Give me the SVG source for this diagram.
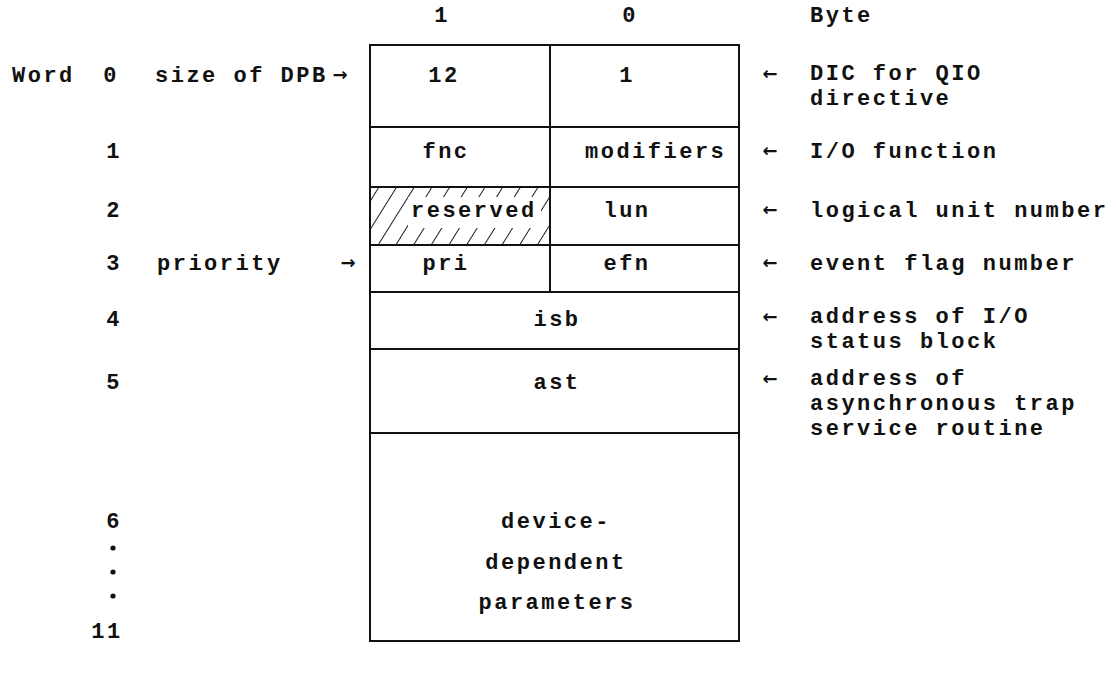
<svg xmlns="http://www.w3.org/2000/svg" width="1116" height="677" viewBox="0 0 1116 677">
<style>
.t{font-family:"Liberation Mono","Courier New",monospace;font-weight:bold;font-size:22px;letter-spacing:2.5px;fill:#111}
.m{text-anchor:middle}
.a{font-family:"DejaVu Sans",sans-serif;font-weight:bold;font-size:18px;fill:#111;text-anchor:middle}
.ln{stroke:#111;stroke-width:2;fill:none}
</style>
<defs>
<pattern id="hatch" width="15" height="10" patternUnits="userSpaceOnUse" patternTransform="rotate(32)">
<line x1="0" y1="0" x2="0" y2="10" stroke="#111" stroke-width="1.9"/>
</pattern>
<clipPath id="resClip"><rect x="371" y="188" width="178" height="56"/></clipPath>
</defs>
<rect width="1116" height="677" fill="#fff"/>

<g id="header">
<text class="t m" x="442" y="22">1</text>
<text class="t m" x="630" y="22">0</text>
<text class="t" x="810" y="22">Byte</text>
</g>

<g id="word-labels">
<text class="t" x="12" y="82">Word</text>
<text class="t m" x="111" y="82">0</text>
<text class="t m" x="114" y="158">1</text>
<text class="t m" x="114" y="217">2</text>
<text class="t m" x="114" y="270">3</text>
<text class="t m" x="114" y="326">4</text>
<text class="t m" x="114" y="389">5</text>
<text class="t m" x="114" y="528">6</text>
<circle cx="113" cy="548" r="2.6" fill="#111"/>
<circle cx="113" cy="572" r="2.6" fill="#111"/>
<circle cx="113" cy="596" r="2.6" fill="#111"/>
<text class="t m" x="107" y="638">11</text>
<text class="t" x="155" y="82">size of DPB</text>
<text class="t" x="157" y="270">priority</text>
</g>

<g id="box">
<rect class="ln" x="370" y="45" width="369" height="596"/>
<line class="ln" x1="550" y1="45" x2="550" y2="292"/>
<line class="ln" x1="370" y1="127" x2="739" y2="127"/>
<line class="ln" x1="370" y1="187" x2="739" y2="187"/>
<line class="ln" x1="370" y1="245" x2="739" y2="245"/>
<line class="ln" x1="370" y1="292" x2="739" y2="292"/>
<line class="ln" x1="370" y1="349" x2="739" y2="349"/>
<line class="ln" x1="370" y1="433" x2="739" y2="433"/>
</g>

<g id="word0">
<text class="t m" x="444" y="82">12</text>
<text class="t m" x="627" y="82">1</text>
</g>
<g id="word1">
<text class="t m" x="446" y="158">fnc</text>
<text class="t" x="585" y="158">modifiers</text>
</g>
<g id="word2">
<g clip-path="url(#resClip)">
<rect x="371" y="188" width="178" height="56" fill="url(#hatch)"/>
<rect x="408" y="197" width="133" height="31" fill="#fff"/>
</g>
<text class="t" x="411" y="217">reserved</text>
<text class="t m" x="627" y="217">lun</text>
</g>
<g id="word3">
<text class="t m" x="446" y="270">pri</text>
<text class="t m" x="627" y="270">efn</text>
</g>
<g id="word4">
<text class="t m" x="557" y="326">isb</text>
</g>
<g id="word5">
<text class="t m" x="557" y="389">ast</text>
</g>
<g id="word6-11">
<text class="t m" x="556" y="528">device-</text>
<text class="t m" x="556" y="569">dependent</text>
<text class="t m" x="557" y="609">parameters</text>
</g>

<g id="descriptions">
<text class="t" x="810" y="80">DIC for QIO</text>
<text class="t" x="810" y="105">directive</text>
<text class="t" x="810" y="158">I/O function</text>
<text class="t" x="810" y="217">logical unit number</text>
<text class="t" x="810" y="270">event flag number</text>
<text class="t" x="810" y="323">address of I/O</text>
<text class="t" x="810" y="348">status block</text>
<text class="t" x="810" y="385">address of</text>
<text class="t" x="810" y="410">asynchronous trap</text>
<text class="t" x="810" y="435">service routine</text>
</g>

<g id="connectors">
<text class="a" x="340" y="81">→</text>
<text class="a" x="348" y="269">→</text>
<text class="a" x="770" y="80">←</text>
<text class="a" x="770" y="157">←</text>
<text class="a" x="770" y="216">←</text>
<text class="a" x="770" y="269">←</text>
<text class="a" x="770" y="323">←</text>
<text class="a" x="770" y="385">←</text>
</g>
</svg>
